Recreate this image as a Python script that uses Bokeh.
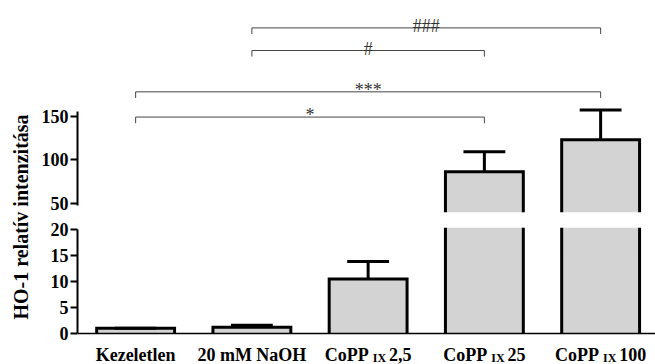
from bokeh.plotting import figure
from bokeh.models import Range1d, FixedTicker, Label, Span
from bokeh.layouts import row, column
from bokeh.embed import file_html
from bokeh.resources import INLINE
from bokeh.core.properties import value

# Treatment groups: main label, subscript, dose
groups = ["Kezeletlen", "20 mM NaOH", "CoPP", "CoPP", "CoPP"]
group_subs = ["", "", "IX", "IX", "IX"]
group_doses = ["", "", "2,5", "25", "100"]

# HO-1 relative intensity (mean and SEM)
means = [1.0, 1.2, 10.5, 86.0, 123.0]
sems = [0.0, 0.4, 3.4, 23.0, 34.0]

# Significance comparisons: (group a, group b, marker)
comparisons = [(0, 3, "*"), (0, 4, "***"), (1, 3, "#"), (1, 4, "###")]

upper_ticks = [50, 100, 150]
lower_ticks = [0, 5, 10, 15, 20]

# ---- layout / style ----
SERIF = "Liberation Serif"
BAR_FILL = "#d3d3d3"
BAR_W = 0.67
CAP_HALF = 0.18
BRACKET_LEVELS = [149.0, 178.0, 225.5, 251.5]
BRACKET_DROP = 7.0
LABEL_SIZE = 18
SUB_SIZE = 12
LABEL_DROP = -21
SUB_DROP = -3

# Times/Liberation Serif Bold advance widths (em)
CHAR_W = {"C": .722, "o": .5, "P": .611, "I": .389, "X": .722, ",": .25, " ": .25}


def text_width(s, size):
    return sum(CHAR_W.get(c, 0.5) for c in s) * size


x = list(range(len(groups)))
tops = [m + s for m, s in zip(means, sems)]
xr = Range1d(-0.5, 4.472)
upper_range = Range1d(39.3, 283.0)
lower_range = Range1d(-5.98, 20.45)

common = dict(output_backend="svg", toolbar_location=None, x_range=xr,
              min_border_left=41, min_border_right=0, x_axis_location=None,
              outline_line_color=None, background_fill_color="white",
              border_fill_color="white")

upper = figure(width=619, height=216, y_range=upper_range,
               min_border_top=0, min_border_bottom=4, **common)
lower = figure(width=619, height=148, y_range=lower_range,
               min_border_top=11, min_border_bottom=0, **common)


def visible_bars(lo):
    """Indices of bars that reach into an axis segment starting at lo."""
    return [i for i, m in enumerate(means) if m > lo]


def outline_paths(lo, hi):
    """Bar outlines limited to the visible part of one axis segment."""
    xs, ys = [], []
    for i in visible_bars(lo):
        m = means[i]
        l, r = i - BAR_W / 2, i + BAR_W / 2
        b = max(0.0, lo)
        if m <= hi:
            xs.append([l, l, r, r])
            ys.append([b, m, m, b])
        else:
            xs += [[l, l], [r, r]]
            ys += [[b, hi], [b, hi]]
    return xs, ys


for p, yr, ticks, bounds in ((upper, upper_range, upper_ticks, (47.5, 155.5)),
                             (lower, lower_range, lower_ticks, (0, 20))):
    p.grid.visible = False
    idx = visible_bars(yr.start)
    p.vbar(x=idx, top=[means[i] for i in idx], bottom=max(0.0, yr.start),
           width=BAR_W, fill_color=BAR_FILL, line_color=None)
    oxs, oys = outline_paths(yr.start, yr.end)
    p.multi_line(xs=oxs, ys=oys, line_color="black", line_width=3,
                 line_join="miter")
    p.segment(x0=x, y0=means, x1=x, y1=tops, line_color="black", line_width=3)
    p.segment(x0=[i - CAP_HALF for i in x], y0=tops,
              x1=[i + CAP_HALF for i in x], y1=tops,
              line_color="black", line_width=3)
    ax = p.yaxis[0]
    ax.ticker = FixedTicker(ticks=ticks)
    ax.bounds = bounds
    ax.axis_line_width = 2
    ax.axis_line_color = "black"
    ax.major_tick_line_width = 2
    ax.major_tick_out = 7
    ax.major_tick_in = 0
    ax.minor_tick_line_color = None
    ax.major_label_standoff = 2
    ax.major_label_text_font = SERIF
    ax.major_label_text_font_style = "bold"
    ax.major_label_text_font_size = "18px"
    ax.major_label_text_color = "black"

# baseline of the lower panel
lower.add_layout(Span(location=0, dimension="width", line_color="black",
                      line_width=1.5))

label_style = dict(text_font=SERIF, text_font_style="bold", text_color="black",
                   text_baseline="alphabetic")
for i, (main, sub, dose) in enumerate(zip(groups, group_subs, group_doses)):
    if not sub:
        lower.add_layout(Label(x=i, y=0, text=main, text_align="center",
                               y_offset=LABEL_DROP,
                               text_font_size=f"{LABEL_SIZE}px", **label_style))
        continue
    gap1, gap2 = 4, 3
    w_main = text_width(main, LABEL_SIZE)
    w_sub = text_width(sub, SUB_SIZE)
    w_dose = text_width(dose, LABEL_SIZE)
    start = -(w_main + gap1 + w_sub + gap2 + w_dose) / 2
    lower.add_layout(Label(x=i, y=0, text=main, text_align="left",
                           x_offset=start, y_offset=LABEL_DROP,
                           text_font_size=f"{LABEL_SIZE}px", **label_style))
    lower.add_layout(Label(x=i, y=0, text=sub, text_align="left",
                           x_offset=start + w_main + gap1,
                           y_offset=LABEL_DROP + SUB_DROP,
                           text_font_size=f"{SUB_SIZE}px", **label_style))
    lower.add_layout(Label(x=i, y=0, text=dose, text_align="left",
                           x_offset=start + w_main + gap1 + w_sub + gap2,
                           y_offset=LABEL_DROP,
                           text_font_size=f"{LABEL_SIZE}px", **label_style))

# significance brackets above the bars
bx, by = [], []
tx, ty, tt = [], [], []
for (a, b, mark), lvl in zip(comparisons, BRACKET_LEVELS):
    bx.append([a, a, b, b])
    by.append([lvl - BRACKET_DROP, lvl, lvl, lvl - BRACKET_DROP])
    tx.append((a + b) / 2)
    ty.append(lvl)
    tt.append(mark)
upper.multi_line(xs=bx, ys=by, line_color="#444444", line_width=1)
upper.text(x=tx, y=ty, text=tt, text_align="center", text_baseline="alphabetic",
           y_offset=-2, text_font=value(SERIF), text_font_size="18px",
           text_color="#333333")

# y axis title spanning both panels
side = figure(width=36, height=364, x_range=Range1d(0, 36), y_range=Range1d(0, 364),
              x_axis_location=None, y_axis_location=None, min_border=0,
              outline_line_color=None, toolbar_location=None, output_backend="svg")
side.grid.visible = False
side.add_layout(Label(x=20.5, y=147.5, text="HO-1 relatív intenzitása",
                      angle=90, angle_units="deg", text_align="center",
                      text_baseline="middle", text_font=SERIF,
                      text_font_style="bold", text_font_size="20px",
                      text_color="black"))

layout = row(side, column(upper, lower, spacing=0), spacing=0)

with open("out.html", "w") as f:
    f.write(file_html(layout, INLINE))
